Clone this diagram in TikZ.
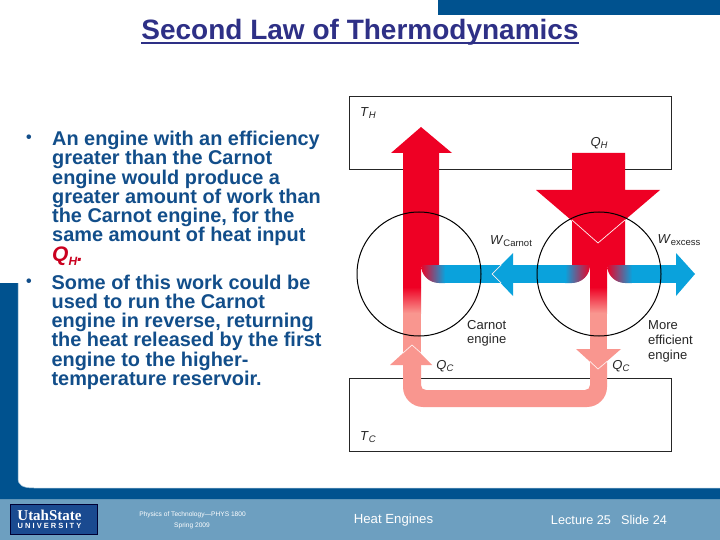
\documentclass[tikz,border=0pt]{standalone}
\usepackage{fontspec}
\setmainfont{Liberation Sans}
\newfontfamily\logofont{Liberation Serif}
\usepackage{xcolor}
\usetikzlibrary{positioning}

\definecolor{slideblue}{HTML}{00528F}
\definecolor{footblue}{HTML}{6D9FC0}
\definecolor{logoblue}{HTML}{1A4A90}
\definecolor{titleblue}{HTML}{2E3086}
\definecolor{bodyblue}{HTML}{124E8A}
\definecolor{heatred}{HTML}{EE0024}
\definecolor{heatpink}{HTML}{F9968F}
\definecolor{workblue}{HTML}{0AA2DC}
\definecolor{midgray}{HTML}{7D8A98}

\newcommand{\symsub}[2]{\textit{#1}\raisebox{-2.5pt}{\fontsize{9.5}{9.5}\selectfont\textit{#2}}}
\newcommand{\worksub}[1]{\textit{W}\raisebox{-2.5pt}{\fontsize{9.5}{9.5}\selectfont #1}}

\begin{document}
\begin{tikzpicture}[
  x=1pt, y=-1pt,
  every node/.style={inner sep=0pt},
  reservoir/.style={draw=black!85, line width=1pt, fill=white, minimum width=322pt, minimum height=73pt},
  engine/.style={circle, draw=black, line width=1pt, minimum size=124pt},
  bodytext/.style={anchor=north west, align=left, text=bodyblue, font=\fontsize{19.9}{19.25}\selectfont\bfseries},
  bulletmark/.style={text=bodyblue, font=\fontsize{16}{16}\selectfont\bfseries},
  lbl/.style={font=\fontsize{13}{14.7}\selectfont, text=black!85},
  lblleft/.style={lbl, align=left},
  foot/.style={text=white},
  chevron/.style={draw=white!85!heatpink, line width=0.7pt},
]

\useasboundingbox (0,0) rectangle (720,540);
\fill[white] (0,0) rectangle (720,540);

% slide frame
\fill[slideblue] (438,0) rectangle (720,15);
\fill[footblue] (0,499) rectangle (720,540);
\fill[slideblue] (0,283) -- (18,283) -- (18,478) .. controls (18,485) and (22,488) .. (34,488) -- (720,488) -- (720,499) -- (0,499) -- cycle;
\draw[footblue!60!white, line width=0.5pt] (18,283) -- (18,478) .. controls (18,485) and (22,488) .. (34,488) -- (720,488);

% title
\node[anchor=base, text=titleblue, font=\fontsize{28}{30}\selectfont\bfseries] (title) at (360,39.5) {Second Law of Thermodynamics};
\draw[titleblue, line width=1.3pt] ([yshift=-3.5pt]title.base west) -- ([yshift=-3.5pt]title.base east);

% text
\node[bodytext] (first) at (52,131) {An engine with an efficiency\\greater than the Carnot\\engine would produce a\\greater amount of work than\\the Carnot engine, for the\\same amount of heat input\\{\color{heatred!85!black}\itshape\fontsize{21}{19}\selectfont Q\raisebox{-4pt}{\fontsize{12}{12}\selectfont H}.}};
\node[bodytext, below=9pt of first] (second) {Some of this work could be\\used to run the Carnot\\engine in reverse, returning\\the heat released by the first\\engine to the higher-\\temperature reservoir.};
\node[bulletmark] (bulletA) at (29,139) {•};
\node[bulletmark] (bulletB) at (29,283) {•};

% reservoirs
\node[reservoir] (hot) at (510,133.5) {};
\node[reservoir] (cold) at (510,414.5) {};

% heat, left engine
\fill[heatred] (403,287) -- (403,153) -- (391,153) -- (421,127) -- (452,153) -- (439,153) -- (439,265) -- (421,265) -- (421,287) -- cycle;
\shade[top color=heatred, bottom color=heatpink] (403,287) rectangle (421,313);

% heat, right engine
\fill[heatred] (572,153) -- (625,153) -- (625,190) -- (660,190) -- (598,243) -- (536,190) -- (572,190) -- cycle;
\fill[heatred] (572,220) -- (598,243) -- (625,220) -- (625,265) -- (607,265) -- (607,287) -- (590,287) -- (590,265) -- (572,265) -- cycle;
\shade[top color=heatred, bottom color=heatpink] (590,287) rectangle (607,313);

% rejected heat
\fill[heatpink] (403,313) rectangle (421,365);
\fill[heatpink] (390,365) -- (412,345) -- (432,365) -- cycle;
\fill[heatpink] (590,313) rectangle (607,360);
\fill[heatpink] (576,349) -- (621,349) -- (598,369) -- cycle;
\fill[heatpink] (403,362) -- (403,387) .. controls (403,398) and (412,407) .. (423,407) -- (587,407) .. controls (598,407) and (607,398) .. (607,387) -- (607,362) -- (590,362) -- (590,385) .. controls (590,388) and (588,390) .. (585,390) -- (426,390) .. controls (423,390) and (421,388) .. (421,385) -- (421,362) -- cycle;

% work
\fill[workblue] (444,265) rectangle (513,283);
\fill[workblue] (513,253) -- (513,296) -- (492,274) -- cycle;
\fill[workblue] (513,265) rectangle (566,283);
\fill[workblue] (631,265) rectangle (676,283);
\fill[workblue] (676,253) -- (676,296) -- (695,274) -- cycle;
\shade[left color=heatred, middle color=midgray, right color=workblue] (421,265) .. controls (421,275) and (429,283) .. (439,283) -- (445,283) -- (445,265) -- cycle;
\shade[left color=workblue, middle color=midgray, right color=heatred] (590,265) .. controls (590,275) and (582,283) .. (572,283) -- (565,283) -- (565,265) -- cycle;
\shade[left color=heatred, middle color=midgray, right color=workblue] (607,265) .. controls (607,275) and (615,283) .. (625,283) -- (632,283) -- (632,265) -- cycle;

% chevrons
\draw[chevron] (572,220) -- (598,243) -- (625,220);
\draw[chevron] (501,265) -- (492,274) -- (501,283);
\draw[chevron] (403,353) -- (412,345) -- (421,353);
\draw[chevron] (590,361.5) -- (598,369) -- (607,361.5);

% engines
\node[engine] (carnot) at (419,274) {};
\node[engine, right=55pt of carnot] (better) {};

% labels
\node[lbl, anchor=west] (TH) at (360,113) {\symsub{T}{H}};
\node[lbl, anchor=west] (TC) at (360,437) {\symsub{T}{C}};
\node[lbl] (QHtop) at (599,143) {\symsub{Q}{H}};
\node[lbl] (QCleft) at (445,366) {\symsub{Q}{C}};
\node[lbl] (QCright) at (621,366) {\symsub{Q}{C}};
\node[lbl] (WCarnot) at (511,241) {\worksub{Carnot}};
\node[lbl] (Wexcess) at (679,240) {\worksub{excess}};
\node[lblleft, anchor=north west] (carnotname) at (467,320) {Carnot\\engine};
\node[lblleft, anchor=north west] (bettername) at (648,320.5) {More\\efficient\\engine};

% footer
\node[draw=black!80!blue, line width=0.8pt, fill=logoblue, minimum width=87pt, minimum height=30pt] (logo) at (53.5,519) {};
\node[text=white, font=\logofont\fontsize{15}{14}\selectfont\bfseries] (logotop) at (49.5,515) {UtahState};
\node[text=white, font=\fontsize{7.5}{8}\selectfont\bfseries, below=2.5pt of logotop] (logobottom) {U N I V E R S I T Y};
\node[foot, font=\fontsize{6.6}{7}\selectfont] (course) at (192.5,514.5) {Physics of Technology---PHYS 1800};
\node[foot, font=\fontsize{6.6}{7}\selectfont] (term) at (192,525.5) {Spring 2009};
\node[foot, font=\fontsize{13.2}{14}\selectfont] (topic) at (393.5,520.5) {Heat Engines};
\node[foot, font=\fontsize{12.7}{14}\selectfont] (lecture) at (581,520) {Lecture 25};
\node[foot, font=\fontsize{12.7}{14}\selectfont] (slide) at (644,520) {Slide 24};

\end{tikzpicture}
\end{document}
